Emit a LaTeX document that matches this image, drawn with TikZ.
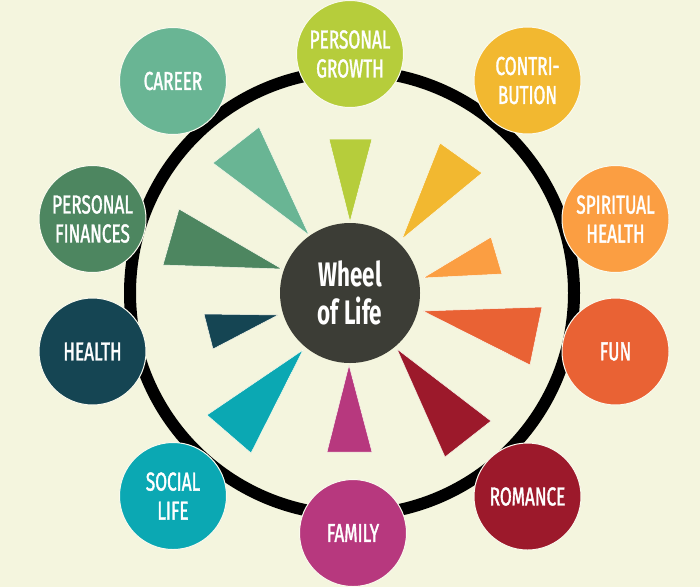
\documentclass[tikz,border=0pt]{standalone}
\usepackage{fontspec}
\setmainfont{Fira Sans}[FakeStretch=0.66,
  UprightFeatures={FakeBold=1.4}]
\usepackage{tikz}
\usetikzlibrary{positioning}

\definecolor{paper}{HTML}{F4F5DE}
\definecolor{hubgray}{HTML}{3C3D36}
\definecolor{career}{HTML}{69B594}
\definecolor{growth}{HTML}{B6CD3B}
\definecolor{contrib}{HTML}{F2B830}
\definecolor{spirit}{HTML}{FB9E42}
\definecolor{fun}{HTML}{E96234}
\definecolor{romance}{HTML}{9C192B}
\definecolor{family}{HTML}{B7387E}
\definecolor{social}{HTML}{0BA8B3}
\definecolor{health}{HTML}{154553}
\definecolor{finance}{HTML}{4D8660}

\begin{document}
\begin{tikzpicture} [x=1pt,y=-1pt,
    every node/.style={circle, minimum size=107pt, inner sep=0pt,
    text=white, align=center, font=\fontsize{26}{29}\selectfont},
    topic/.style={draw=paper!50!white, line width=1pt},
    hub/.style={minimum size=140pt, fill=hubgray,
      font=\bfseries\fontsize{34}{38}\selectfont},
    rim/.style={draw=black, line width=12pt},
    wedge/.style={draw=paper!50!white, line width=0.5pt, line join=miter}
    ]
    \fill[paper] (0,0) rectangle (700,587);
    \useasboundingbox (0,0) rectangle (700,587);

    \draw [rim] (352,293) circle[radius=222];

    % wedges pointing to the hub
    \filldraw [wedge, fill=career]  (213,163) -- (259,127) -- (309,235) -- cycle;
    \filldraw [wedge, fill=growth]  (329,139) -- (372,139) -- (350,222) -- cycle;
    \filldraw [wedge, fill=contrib] (440,143) -- (482,173) -- (402,239) -- cycle;
    \filldraw [wedge, fill=spirit]  (491,237) -- (502,274) -- (423,278) -- cycle;
    \filldraw [wedge, fill=fun]     (542,307) -- (530,365) -- (423,311) -- cycle;
    \filldraw [wedge, fill=romance] (491,421) -- (445,457) -- (397,349) -- cycle;
    \filldraw [wedge, fill=family]  (327,452) -- (372,452) -- (349,365) -- cycle;
    \filldraw [wedge, fill=social]  (251,453) -- (207,415) -- (303,350) -- cycle;
    \filldraw [wedge, fill=health]  (204,314) -- (213,349) -- (278,315) -- cycle;
    \filldraw [wedge, fill=finance] (179,209) -- (163,265) -- (282,269) -- cycle;

    \node (hub) [hub] at (350,293) {Wheel\\of Life};

    \node (growth)  [topic, fill=growth]  at (350,54)    {PERSONAL\\GROWTH};
    \node (contrib) [topic, fill=contrib] at (527.5,80.5) {CONTRI-\\BUTION};
    \node (spirit)  [topic, fill=spirit]  at (615.5,219) {SPIRITUAL\\HEALTH};
    \node (fun)     [topic, fill=fun]     at (615.5,351.5) {FUN};
    \node (romance) [topic, fill=romance] at (527.5,496.5) {ROMANCE};
    \node (family)  [topic, fill=family]  at (353,533)   {FAMILY};
    \node (social)  [topic, fill=social]  at (173,496)   {SOCIAL\\LIFE};
    \node (health)  [topic, fill=health]  at (92.5,351.5) {HEALTH};
    \node (finance) [topic, fill=finance] at (92.5,219)  {PERSONAL\\FINANCES};
    \node (career)  [topic, fill=career]  at (173,81)    {CAREER};
\end{tikzpicture}
\end{document}
